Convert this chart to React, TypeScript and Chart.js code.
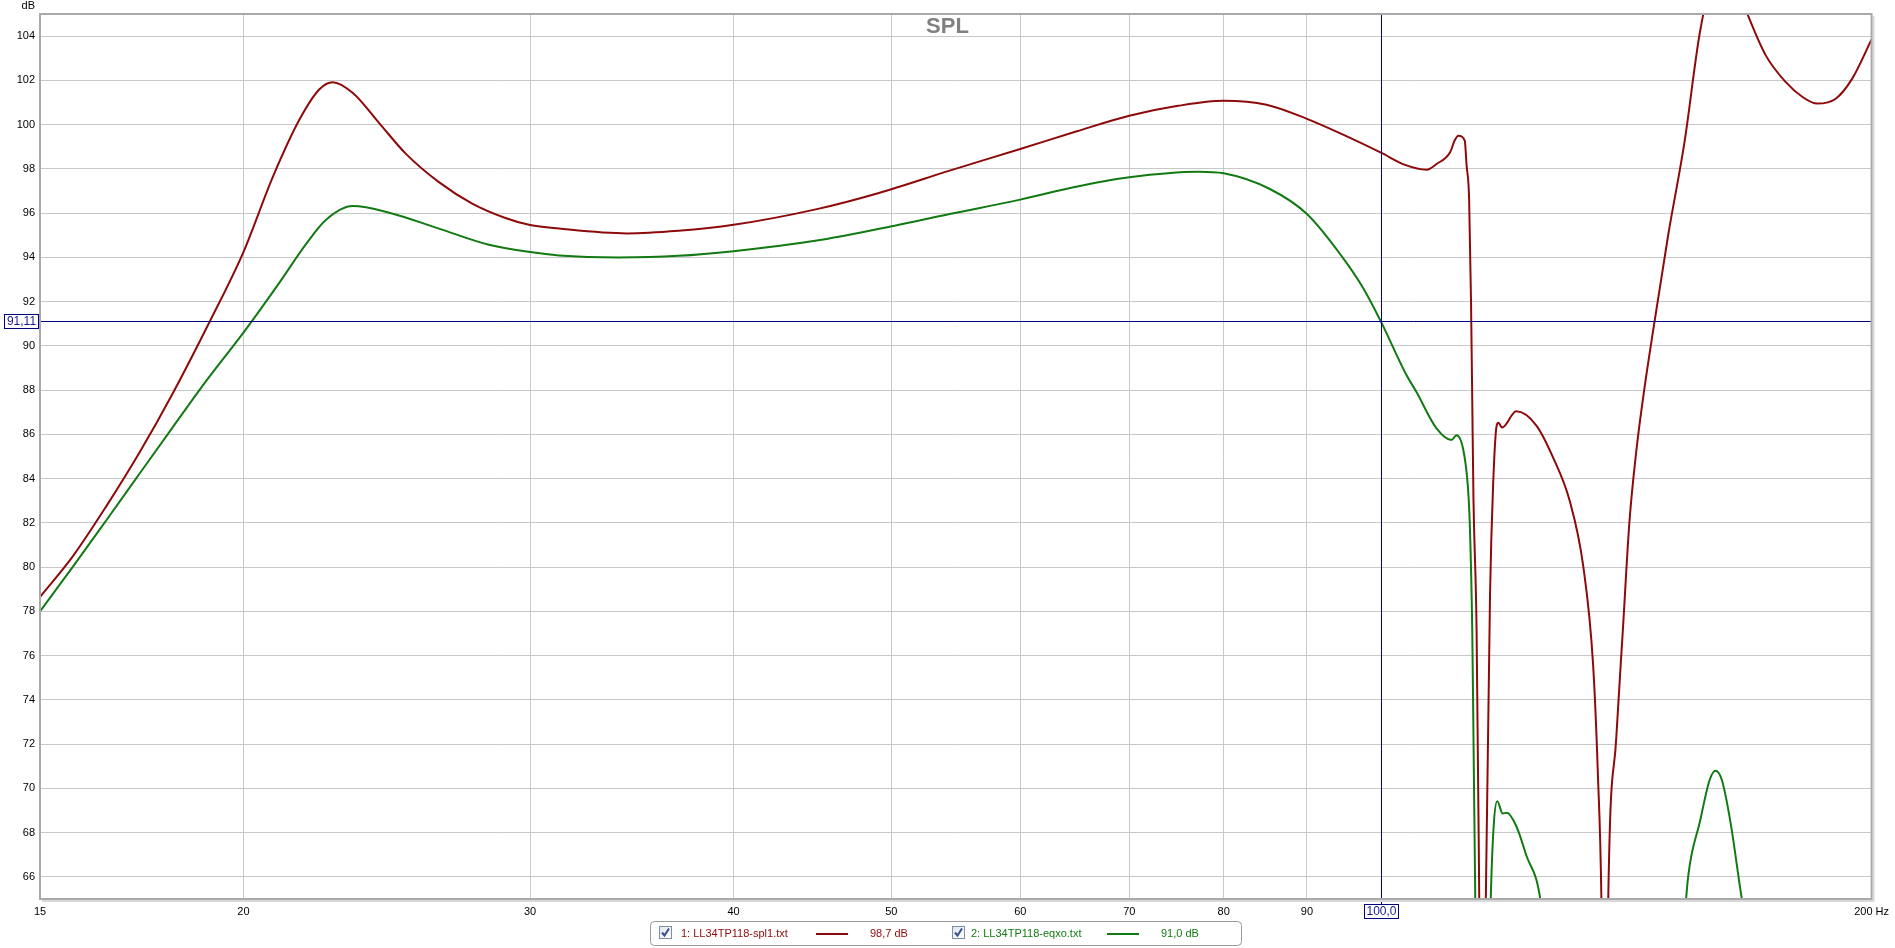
import React, { useEffect, useRef } from 'react';
import { Chart, registerables } from 'chart.js';

Chart.register(...registerables);

// ---- Data ----
const FREQ_1 = [
  15, 15.72, 16.48, 17.27, 18.1, 19.07, 20, 20.85, 21.65, 22.27, 22.69, 23.34, 24.24, 25.16, 26.37, 27.64,
  28.97, 30, 31.25, 34.4, 37, 40, 45, 49.07, 54.3, 60, 65, 70, 75, 80, 85, 90, 94.5, 100, 103.4,
  106.6, 108.1, 110.2, 110.9, 111.5, 112.5, 112.8, 113.2, 113.5, 113.7, 113.9, 114.4, 114.85, 115.3, 115.9,
  116.6, 117.1, 117.7, 118.0, 118.6, 121.0, 124.5, 127.5, 130.5, 133.0, 134.9, 135.8, 136.5, 137.15, 137.8,
  139.4, 140.7, 142.0, 143.4, 145, 147, 150, 153.5, 157, 162, 167.8, 172.2, 177.1, 181.4, 185.2, 190.1,
  194.6, 200,
];
const SPL_1 = [
  78.65, 80.51, 82.77, 85.19, 87.86, 91.1, 94.24, 97.64, 100.23, 101.6, 101.92, 101.44, 100.06, 98.69, 97.4, 96.43,
  95.78, 95.46, 95.3, 95.08, 95.2, 95.47, 96.18, 96.9, 97.92, 98.9, 99.7, 100.4, 100.85, 101.08, 100.9, 100.26, 99.58, 98.72, 98.18,
  97.96, 98.22, 98.75, 99.28, 99.5, 99.28, 98.14, 96.64, 92.11, 87.59, 83.06, 77.18, 64.5, 50, 64.8,
  78.8, 83.65, 86.4, 86.52, 86.31, 87.04, 86.4, 84.94, 83.0, 80.09, 75.57, 70.71, 64.8, 50, 64.8,
  72.33, 77.18, 82.03, 85.26, 88.0, 90.9, 95.0, 99.2, 104.3, 108, 105, 103.13, 101.93, 101.25, 100.95, 101.17,
  102.08, 103.85,
];

const FREQ_2 = [
  15, 15.72, 16.48, 17.27, 18.1, 18.98, 20, 21.04, 21.85, 22.48, 23.34, 24.58, 26.37, 28.3, 30,
  31.25, 34, 37, 40, 45, 49.07, 54.3, 60, 64.7, 70, 77.2, 80, 85.4, 90, 94.5, 97.4, 100, 103.4, 105.1,
  108.1, 110.4, 111.2, 112.3, 113.0, 113.3, 113.7, 113.9, 114.2, 115.4, 116.7, 117.2, 117.8, 118.7, 119.4,
  121.0, 122.7, 125.3, 127, 140, 152, 154.3, 156.9, 159.1, 160.4, 161.8, 163.8, 165.7, 167.5, 172, 200,
];
const SPL_2 = [
  78.0, 80.03, 82.13, 84.23, 86.33, 88.43, 90.6, 92.85, 94.6, 95.7, 96.32, 96.02, 95.3, 94.57, 94.24,
  94.09, 94.0, 94.07, 94.28, 94.76, 95.28, 95.96, 96.61, 97.17, 97.62, 97.87, 97.8, 97.09, 95.96, 94.07, 92.64, 91.05, 88.8, 87.9,
  86.27, 85.75, 85.96, 85.26, 83.65, 82.03, 77.18, 72.33, 64.8, 45, 64.8, 68.3, 69.42, 68.86, 68.9,
  68.3, 67.0, 64.8, 60, 45, 60, 66.0, 68.5, 70.4, 70.8, 70.4, 68.5, 66.0, 63.5, 55, 45,
];

const X_TICKS = [15, 20, 30, 40, 50, 60, 70, 80, 90, 100, 200];
const Y_TICKS = [66, 68, 70, 72, 74, 76, 78, 80, 82, 84, 86, 88, 90, 92, 94, 96, 98, 100, 102, 104];

const CURSOR_FREQ = 100;
const CURSOR_DB = 91.11;
const CURSOR_FREQ_LABEL = '100,0';
const CURSOR_DB_LABEL = '91,11';

const SERIES_NAMES = ['1: LL34TP118-spl1.txt', '2: LL34TP118-eqxo.txt'];
const SERIES_READOUTS = ['98,7 dB', '91,0 dB'];

const TITLE = 'SPL';
const Y_UNIT = 'dB';

// ---- Styles ----
const RED = '#8e0a0a';
const GREEN = '#127a12';
const NAVY = '#000080';
const GRID = '#c8c8c8';
const FONT = '"Liberation Sans", Arial, sans-serif';

const W = 1895;
const H = 948;

function drawCheckbox(ctx: CanvasRenderingContext2D, x: number, y: number) {
  const s = 13;
  ctx.save();
  const g = ctx.createLinearGradient(x, y, x + s, y + s);
  g.addColorStop(0, '#dfe6ee');
  g.addColorStop(1, '#ffffff');
  ctx.fillStyle = g;
  ctx.fillRect(x, y, s, s);
  ctx.strokeStyle = '#7f8fa3';
  ctx.lineWidth = 1;
  ctx.strokeRect(x + 0.5, y + 0.5, s - 1, s - 1);
  ctx.strokeStyle = '#3a4f8c';
  ctx.lineWidth = 2;
  ctx.beginPath();
  ctx.moveTo(x + 3, y + 6.5);
  ctx.lineTo(x + 5.5, y + 9.5);
  ctx.lineTo(x + 10, y + 2.5);
  ctx.stroke();
  ctx.restore();
}

function roundRect(ctx: CanvasRenderingContext2D, x: number, y: number, w: number, h: number, r: number) {
  ctx.beginPath();
  ctx.moveTo(x + r, y);
  ctx.lineTo(x + w - r, y);
  ctx.arcTo(x + w, y, x + w, y + r, r);
  ctx.lineTo(x + w, y + h - r);
  ctx.arcTo(x + w, y + h, x + w - r, y + h, r);
  ctx.lineTo(x + r, y + h);
  ctx.arcTo(x, y + h, x, y + h - r, r);
  ctx.lineTo(x, y + r);
  ctx.arcTo(x, y, x + r, y, r);
  ctx.closePath();
}

const overlayPlugin = {
  id: 'overlay',
  afterDatasetsDraw(chart: any) {
    const { ctx, chartArea: a, scales } = chart;
    const xs = scales.x;
    const ys = scales.y;
    const cx = Math.round(xs.getPixelForValue(CURSOR_FREQ)) + 0.5;
    const cy = Math.round(ys.getPixelForValue(CURSOR_DB)) + 0.5;
    ctx.save();
    ctx.strokeStyle = NAVY;
    ctx.lineWidth = 1;
    ctx.beginPath();
    ctx.moveTo(cx, a.top);
    ctx.lineTo(cx, a.bottom + 5);
    ctx.moveTo(a.left, cy);
    ctx.lineTo(a.right, cy);
    ctx.stroke();
    ctx.restore();
  },
  afterDraw(chart: any) {
    const { ctx, chartArea: a, scales } = chart;
    const xs = scales.x;
    const ys = scales.y;
    ctx.save();

    // frame with shadow
    ctx.strokeStyle = '#d9d9d9';
    ctx.lineWidth = 2;
    ctx.beginPath();
    ctx.moveTo(a.right + 2, a.top + 2);
    ctx.lineTo(a.right + 2, a.bottom + 2);
    ctx.lineTo(a.left + 2, a.bottom + 2);
    ctx.stroke();
    ctx.strokeStyle = '#a9a9a9';
    ctx.lineWidth = 2;
    ctx.strokeRect(a.left, a.top, a.right - a.left, a.bottom - a.top);

    // title
    ctx.fillStyle = '#808080';
    ctx.font = `bold 22px ${FONT}`;
    ctx.textAlign = 'center';
    ctx.textBaseline = 'middle';
    ctx.fillText(TITLE, W / 2, 27);

    // unit label
    ctx.fillStyle = '#000';
    ctx.font = `11px ${FONT}`;
    ctx.textAlign = 'right';
    ctx.textBaseline = 'middle';
    ctx.fillText(Y_UNIT, 35, 6);

    // cursor labels
    const cx = Math.round(xs.getPixelForValue(CURSOR_FREQ)) + 0.5;
    const cy = Math.round(ys.getPixelForValue(CURSOR_DB)) + 0.5;
    ctx.font = `12px ${FONT}`;
    ctx.textAlign = 'center';
    ctx.textBaseline = 'middle';
    ctx.lineWidth = 1;
    ctx.strokeStyle = NAVY;
    // y label
    ctx.fillStyle = '#fff';
    ctx.fillRect(4.5, cy - 7, 34, 14);
    ctx.strokeRect(4.5, cy - 7, 34, 14);
    ctx.fillStyle = '#1a1a90';
    ctx.fillText(CURSOR_DB_LABEL, 21.5, cy + 0.5);
    // x label
    ctx.fillStyle = '#fff';
    ctx.fillRect(cx - 17, 904.5, 34, 14);
    ctx.strokeRect(cx - 17, 904.5, 34, 14);
    ctx.fillStyle = '#1a1a90';
    ctx.fillText(CURSOR_FREQ_LABEL, cx, 912);

    // legend box
    roundRect(ctx, 650.5, 921.5, 591, 24, 4);
    ctx.fillStyle = '#fff';
    ctx.fill();
    ctx.strokeStyle = '#9a9a9a';
    ctx.lineWidth = 1;
    ctx.stroke();

    const items = [
      { cb: 659, text: 681, line: [816, 848], value: 870, color: RED },
      { cb: 952, text: 971, line: [1107, 1139], value: 1161, color: GREEN },
    ];
    items.forEach((it, i) => {
      drawCheckbox(ctx, it.cb, 926);
      ctx.font = `11px ${FONT}`;
      ctx.textAlign = 'left';
      ctx.textBaseline = 'middle';
      ctx.fillStyle = it.color;
      ctx.fillText(SERIES_NAMES[i], it.text, 934);
      ctx.fillText(SERIES_READOUTS[i], it.value, 934);
      ctx.strokeStyle = it.color;
      ctx.lineWidth = 2;
      ctx.beginPath();
      ctx.moveTo(it.line[0], 934);
      ctx.lineTo(it.line[1], 934);
      ctx.stroke();
    });

    ctx.restore();
  },
};

export default function App() {
  const ref = useRef<HTMLCanvasElement | null>(null);

  useEffect(() => {
    document.body.style.margin = '0';
    const canvas = ref.current;
    if (!canvas) return;
    const chart = new Chart(canvas, {
      type: 'line',
      data: {
        datasets: [
          {
            label: SERIES_NAMES[0],
            data: FREQ_1.map((f, i) => ({ x: f, y: SPL_1[i] })),
            borderColor: RED,
            borderWidth: 2,
            pointRadius: 0,
            fill: false,
            cubicInterpolationMode: 'monotone',
          },
          {
            label: SERIES_NAMES[1],
            data: FREQ_2.map((f, i) => ({ x: f, y: SPL_2[i] })),
            borderColor: GREEN,
            borderWidth: 2,
            pointRadius: 0,
            fill: false,
            cubicInterpolationMode: 'monotone',
          },
        ],
      },
      options: {
        responsive: false,
        animation: false,
        devicePixelRatio: 1,
        events: [],
        layout: { padding: { left: 0, right: 19, top: 14, bottom: 0 } },
        plugins: {
          legend: { display: false },
          title: { display: false },
          tooltip: { enabled: false },
        },
        scales: {
          x: {
            type: 'logarithmic',
            min: 15,
            max: 200,
            afterBuildTicks: (s: any) => {
              s.ticks = X_TICKS.map((v) => ({ value: v }));
            },
            afterFit: (s: any) => {
              s.height = 49;
            },
            grid: {
              drawTicks: false,
              lineWidth: 1,
              color: (c: any) =>
                c.tick && (c.tick.value === 15 || c.tick.value === 200) ? 'rgba(0,0,0,0)' : GRID,
            },
            border: { display: false },
            ticks: {
              autoSkip: false,
              maxRotation: 0,
              minRotation: 0,
              padding: 6,
              color: '#000',
              font: { family: FONT, size: 11 },
              callback: (v: any) => (v === 200 ? '200 Hz' : v === 100 ? '' : String(v)),
            },
          },
          y: {
            type: 'linear',
            min: 65,
            max: 105,
            afterBuildTicks: (s: any) => {
              s.ticks = Y_TICKS.map((v) => ({ value: v }));
            },
            afterFit: (s: any) => {
              s.width = 40;
            },
            grid: { drawTicks: false, lineWidth: 1, color: GRID },
            border: { display: false },
            ticks: {
              padding: 5,
              color: '#000',
              font: { family: FONT, size: 11 },
              callback: (v: any) => String(v),
            },
          },
        },
      },
      plugins: [overlayPlugin],
    } as any);
    return () => chart.destroy();
  }, []);

  return (
    <div style={{ width: W, height: H, background: '#fff' }}>
      <canvas ref={ref} width={W} height={H} style={{ display: 'block', width: W, height: H }} />
    </div>
  );
}
